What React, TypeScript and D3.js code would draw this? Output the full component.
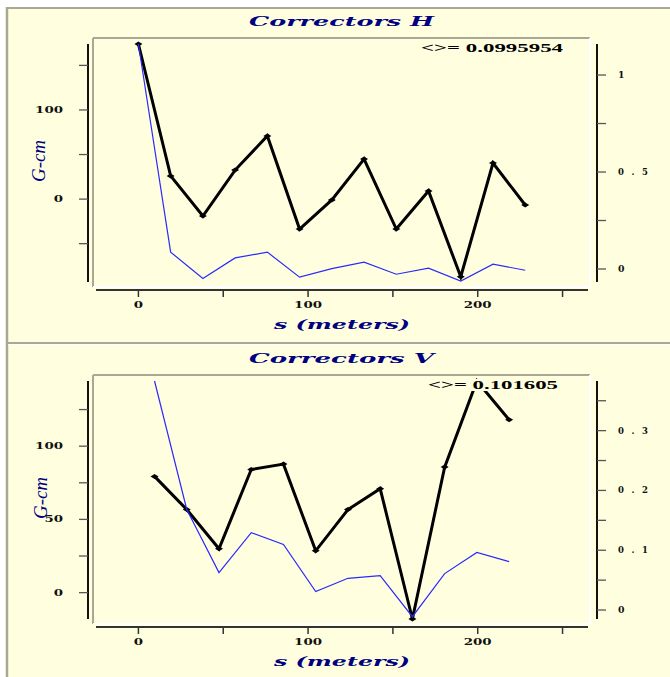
import React from "react";
import * as d3 from "d3";

// ---------- data ----------
const sH = [0, 19, 38, 57, 76, 95, 114, 133, 152, 171, 190, 209, 228];
const hRight = [1.16, 0.48, 0.273, 0.51, 0.686, 0.206, 0.356, 0.567, 0.206, 0.402, -0.04, 0.546, 0.33];
const hLeft = [174, -59.5, -89, -66, -59.5, -87.6, -78, -70.8, -84.3, -77.5, -92, -73, -79.8];

const sV = [9.5, 28.5, 47.5, 66.5, 85.5, 104.5, 123.5, 142.5, 161.5, 180.5, 199.5, 218.5];
const vRight = [0.2235, 0.168, 0.1025, 0.235, 0.244, 0.099, 0.168, 0.203, -0.015, 0.239, 0.383, 0.318];
const vLeft = [144.5, 56.8, 13.7, 41, 32.9, 0.8, 9.8, 11.6, -16.4, 13, 27.4, 21.2];

const xTicks = [0, 50, 100, 150, 200, 250];
const xLabels = [0, 100, 200];
const hLeftTicks = [-50, 0, 50, 100, 150];
const hLeftLabels = [0, 100];
const hRightTicks = [0, 0.25, 0.5, 0.75, 1];
const hRightLabels = [0, 0.5, 1];
const vLeftTicks = [0, 25, 50, 75, 100, 125];
const vLeftLabels = [0, 50, 100];
const vRightTicks = [0, 0.05, 0.1, 0.15, 0.2, 0.25, 0.3, 0.35];
const vRightLabels = [0, 0.1, 0.2, 0.3];

const titles = ["Correctors H", "Correctors V"];
const notes = ["<>= 0.0995954", "<>= 0.101605"];

// ---------- style ----------
const BG = "#FFFFE0";
const NAVY = "#000080";
const BLUE = "#2a2aff";
const SERIF = "'DejaVu Serif', 'Liberation Serif', serif";
const TSERIF = "'Liberation Serif', 'DejaVu Serif', serif";

type PanelProps = {
  dy: number;
  s: number[];
  right: number[];
  left: number[];
  leftDomain: [number, number];
  rightDomain: [number, number];
  leftTicks: number[];
  leftLabels: number[];
  rightTicks: number[];
  rightLabels: number[];
  title: string;
  note: string;
  noteX: number;
  noteW: number;
  yLabelX: number;
};

function Panel(p: PanelProps) {
  const axTop = 44, axBot = 282;
  const x = d3.scaleLinear().domain([-25, 265]).range([96, 588]);
  const yL = d3.scaleLinear().domain(p.leftDomain).range([axBot, axTop]);
  const yR = d3.scaleLinear().domain(p.rightDomain).range([axBot, axTop]);

  const blueLine = d3
    .line<number>()
    .x((_, i) => x(p.s[i]))
    .y((d) => yL(d));
  const blackLine = d3
    .line<number>()
    .x((_, i) => x(p.s[i]))
    .y((d) => yR(d));

  const labelW = (t: string) => t.length * 9.3;

  return (
    <g transform={`translate(0,${p.dy})`}>
      {/* title */}
      <text
        x={249}
        y={26}
        fontFamily={SERIF}
        fontWeight="bold"
        fontStyle="italic"
        fontSize={13.5}
        fill={NAVY}
        textLength={185}
        lengthAdjust="spacingAndGlyphs"
      >
        {p.title}
      </text>

      {/* plot box bevel */}
      <line x1={93} x2={590} y1={38} y2={38} stroke="#a8a894" strokeWidth={2} />
      <line x1={93} x2={93} y1={38} y2={287} stroke="#a8a894" strokeWidth={2} />
      <line x1={93} x2={590} y1={287} y2={287} stroke="#ffffff" strokeWidth={2} />
      <line x1={590} x2={590} y1={38} y2={287} stroke="#ffffff" strokeWidth={2} />

      {/* left axis */}
      <line x1={88} x2={88} y1={axTop} y2={axBot} stroke="#111" strokeWidth={2} />
      {p.leftTicks.map((t) => (
        <line key={"lt" + t} x1={79} x2={88} y1={yL(t)} y2={yL(t)} stroke="#555" strokeWidth={1.3} />
      ))}
      {p.leftLabels.map((t) => (
        <text
          key={"ll" + t}
          x={63}
          y={yL(t) + 3}
          textAnchor="end"
          fontFamily={SERIF}
          fontWeight="bold"
          fontSize={8.5}
          fill="#111"
          textLength={labelW(String(t))}
          lengthAdjust="spacingAndGlyphs"
        >
          {t}
        </text>
      ))}

      {/* right axis */}
      <line x1={597} x2={597} y1={axTop} y2={axBot} stroke="#111" strokeWidth={2} />
      {p.rightTicks.map((t) => (
        <line key={"rt" + t} x1={597} x2={606} y1={yR(t)} y2={yR(t)} stroke="#555" strokeWidth={1.3} />
      ))}
      {p.rightLabels.map((t) => {
        const s = String(t);
        return (
          <text
            key={"rl" + t}
            x={618}
            y={yR(t) + 3}
            fontFamily={SERIF}
            fontWeight="bold"
            fontSize={8.5}
            fill="#111"
            textLength={s.length > 1 ? 30 : 6.5}
            lengthAdjust={s.length > 1 ? "spacing" : "spacingAndGlyphs"}
          >
            {s}
          </text>
        );
      })}

      {/* bottom axis */}
      <line x1={96} x2={588} y1={290} y2={290} stroke="#333" strokeWidth={2} />
      {xTicks.map((t) => (
        <line key={"xt" + t} x1={x(t)} x2={x(t)} y1={290} y2={297} stroke="#333" strokeWidth={1.5} />
      ))}
      {xLabels.map((t) => (
        <text
          key={"xl" + t}
          x={x(t)}
          y={308}
          textAnchor="middle"
          fontFamily={SERIF}
          fontWeight="bold"
          fontSize={8.5}
          fill="#111"
          textLength={labelW(String(t))}
          lengthAdjust="spacingAndGlyphs"
        >
          {t}
        </text>
      ))}

      {/* axis titles */}
      <text
        x={274}
        y={329}
        fontFamily={SERIF}
        fontWeight="bold"
        fontStyle="italic"
        fontSize={12.5}
        fill={NAVY}
        textLength={136}
        lengthAdjust="spacingAndGlyphs"
      >
        s (meters)
      </text>
      <text
        transform={`translate(${p.yLabelX},161) rotate(-90)`}
        textAnchor="middle"
        fontFamily={TSERIF}
        fontStyle="italic"
        fontSize={18}
        fill={NAVY}
        textLength={42}
        lengthAdjust="spacingAndGlyphs"
      >
        G-cm
      </text>

      {/* data */}
      <path d={blackLine(p.right) || ""} fill="none" stroke="#000" strokeWidth={3} strokeLinejoin="miter" />
      {p.right.map((d, i) => (
        <path
          key={"m" + i}
          transform={`translate(${x(p.s[i])},${yR(d)})`}
          d="M-4,0L0,-2.5L4,0L0,2.5Z"
          fill="#000"
        />
      ))}
      <path d={blueLine(p.left) || ""} fill="none" stroke={BLUE} strokeWidth={1.2} />

      {/* annotation */}
      <rect x={p.noteX - 2} y={42} width={p.noteW + 4} height={12} fill={BG} />
      <text
        x={p.noteX}
        y={52}
        fontFamily={TSERIF}
        fontWeight="bold"
        fontSize={12}
        fill="#000"
        textLength={p.noteW}
        lengthAdjust="spacingAndGlyphs"
      >
        {p.note}
      </text>
    </g>
  );
}

export default function App() {
  const W = 670, H = 677;
  return (
    <svg
      width={W}
      height={H}
      viewBox={`0 0 ${W} ${H}`}
      style={{ position: "absolute", left: 0, top: 0, display: "block" }}
    >
      <rect x={0} y={0} width={W} height={H} fill="#ffffff" />
      <rect x={6} y={7} width={W - 6} height={H - 7} fill={BG} />
      <line x1={6} x2={W} y1={8} y2={8} stroke="#a8a894" strokeWidth={2} />
      <line x1={7} x2={7} y1={7} y2={H} stroke="#a8a894" strokeWidth={2.5} />
      <line x1={6} x2={W} y1={343} y2={343} stroke="#a8a894" strokeWidth={2} />
      <line x1={8} x2={W} y1={344.5} y2={344.5} stroke="#ffffff" strokeWidth={1} />

      <Panel
        dy={0}
        s={sH}
        right={hRight}
        left={hLeft}
        leftDomain={[-93, 174]}
        rightDomain={[-0.067, 1.16]}
        leftTicks={hLeftTicks}
        leftLabels={hLeftLabels}
        rightTicks={hRightTicks}
        rightLabels={hRightLabels}
        title={titles[0]}
        note={notes[0]}
        noteX={421}
        noteW={142}
        yLabelX={45}
      />
      <Panel
        dy={337}
        s={sV}
        right={vRight}
        left={vLeft}
        leftDomain={[-18, 144.5]}
        rightDomain={[-0.015, 0.383]}
        leftTicks={vLeftTicks}
        leftLabels={vLeftLabels}
        rightTicks={vRightTicks}
        rightLabels={vRightLabels}
        title={titles[1]}
        note={notes[1]}
        noteX={428}
        noteW={130}
        yLabelX={47}
      />
    </svg>
  );
}
